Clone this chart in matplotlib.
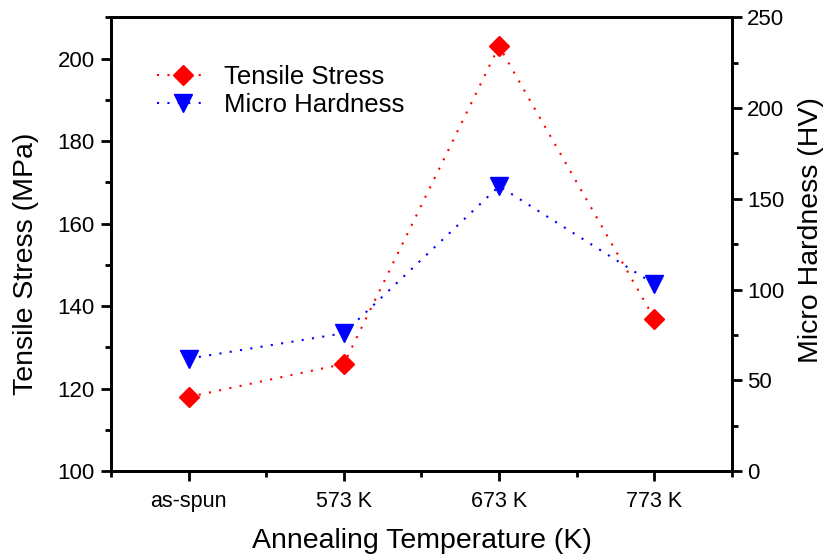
import matplotlib
matplotlib.use("Agg")
import matplotlib.pyplot as plt
from matplotlib.ticker import MultipleLocator, FixedLocator

plt.rcParams["font.family"] = ["Liberation Sans", "DejaVu Sans"]

# 数据
categories = ["as-spun", "573 K", "673 K", "773 K"]
tensile_stress = [118, 126, 203, 137]     # MPa，左轴
micro_hardness = [62, 76, 157, 103]       # HV，右轴

x = list(range(len(categories)))
_DOT = (0, (1, 4))  # 稀疏点线，接近原图

fig = plt.figure(figsize=(8.28, 5.57), dpi=100)
ax = fig.add_axes([0.134, 0.154, 0.750, 0.815])
ax2 = ax.twinx()

(l1,) = ax.plot(x, tensile_stress, ls=_DOT, lw=1.5, color="red", marker="D",
                ms=10, mfc="red", mec="red", label="Tensile Stress")
(l2,) = ax2.plot(x, micro_hardness, ls=_DOT, lw=1.5, color="blue", marker="v",
                 ms=13, mfc="blue", mec="blue", label="Micro Hardness")

ax.set_xlim(-0.5, 3.5)
ax.set_ylim(100, 210)
ax2.set_ylim(0, 250)

ax.set_xticks(x)
ax.set_xticklabels(categories)
ax.xaxis.set_minor_locator(FixedLocator([-0.5, 0.5, 1.5, 2.5, 3.5]))
ax.set_yticks(range(100, 201, 20))
ax.yaxis.set_minor_locator(MultipleLocator(10))
ax2.yaxis.set_major_locator(MultipleLocator(50))
ax2.yaxis.set_minor_locator(MultipleLocator(25))

for a in (ax, ax2):
    for s in a.spines.values():
        s.set_linewidth(2.0)
ax.tick_params(axis="both", which="major", direction="out", length=7, width=2,
               labelsize=16, top=False, right=False)
ax.tick_params(axis="both", which="minor", direction="out", length=4, width=2,
               top=False, right=False)
ax.tick_params(axis="x", labelsize=15.5, pad=7)
ax.tick_params(axis="y", pad=4.5)
ax2.tick_params(axis="y", which="major", direction="out", length=7, width=2,
                labelsize=16, pad=4)
ax2.tick_params(axis="y", which="minor", direction="out", length=4, width=2)

ax.set_xlabel("Annealing Temperature (K)", fontsize=20.5)
ax.set_ylabel("Tensile Stress (MPa)", fontsize=20.5)
ax2.set_ylabel("Micro Hardness (HV)", fontsize=20.5)
ax.xaxis.set_label_coords(0.5, -0.125)
ax.yaxis.set_label_coords(-0.116, 0.457)
ax2.yaxis.set_label_coords(1.107, 0.531)

ax.legend([l1, l2], ["Tensile Stress", "Micro Hardness"], loc="upper left",
          bbox_to_anchor=(0.037, 0.945), frameon=False, fontsize=18.5,
          handlelength=2.0, handletextpad=0.6, labelspacing=0.15)

fig.savefig("out.png", dpi=100)
